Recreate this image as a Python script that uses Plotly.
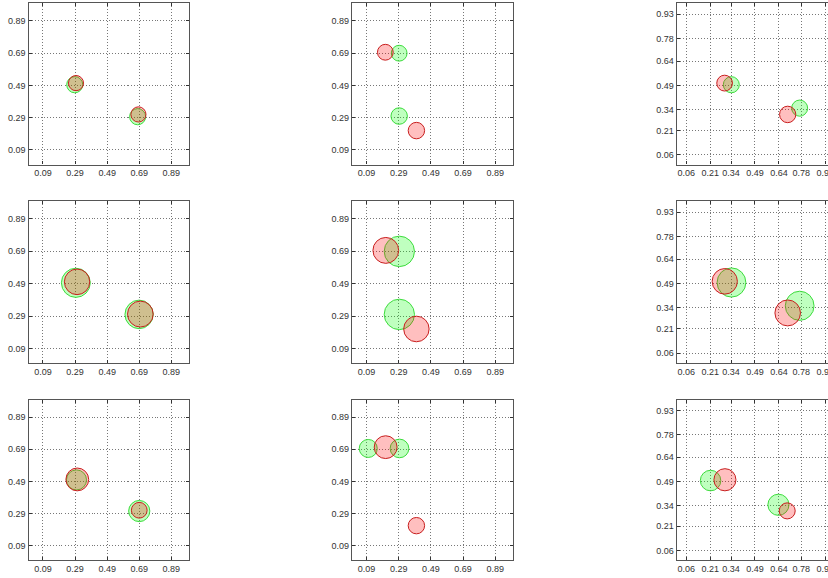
import plotly.graph_objects as go

# ---- data: per panel (row-major), centres and radii in data units ----
green_x = [[0.288, 0.680], [0.293, 0.293], [0.342, 0.770],
           [0.295, 0.689], [0.294, 0.294], [0.343, 0.770],
           [0.299, 0.690], [0.101, 0.295], [0.212, 0.637]]
green_y = [[0.494, 0.296], [0.689, 0.300], [0.494, 0.349],
           [0.495, 0.300], [0.689, 0.300], [0.497, 0.353],
           [0.499, 0.305], [0.695, 0.695], [0.495, 0.344]]
green_r = [[0.050, 0.050], [0.049, 0.051], [0.050, 0.050],
           [0.090, 0.088], [0.094, 0.094], [0.090, 0.090],
           [0.0625, 0.066], [0.056, 0.058], [0.064, 0.066]]

red_x = [[0.296, 0.685], [0.207, 0.400], [0.300, 0.695],
         [0.3025, 0.697], [0.210, 0.400], [0.301, 0.695],
         [0.304, 0.690], [0.209, 0.400], [0.302, 0.692]]
red_y = [[0.504, 0.310], [0.695, 0.210], [0.504, 0.310],
         [0.501, 0.302], [0.695, 0.210], [0.504, 0.309],
         [0.502, 0.310], [0.703, 0.214], [0.500, 0.306]]
red_r = [[0.047, 0.047], [0.049, 0.051], [0.049, 0.051],
         [0.079, 0.080], [0.080, 0.079], [0.079, 0.080],
         [0.071, 0.049], [0.071, 0.051], [0.069, 0.050]]

ticks_a = [0.09, 0.29, 0.49, 0.69, 0.89]
ticks_b = [0.06, 0.21, 0.34, 0.49, 0.64, 0.78, 0.93]
col_ticks = [ticks_a, ticks_a, ticks_b]

# ---- layout geometry (pixels) ----
W, H = 845, 578
col_px = [(28.5, 189.0), (352.0, 513.0), (676.7, 836.4)]
row_px = [(3.0, 164.5), (201.0, 363.0), (399.5, 560.0)]

fig = go.Figure()
layout = dict(width=W, height=H, margin=dict(l=0, r=0, t=0, b=0),
              paper_bgcolor="white", plot_bgcolor="white",
              showlegend=False,
              font=dict(family="Liberation Sans, Arial, sans-serif", size=9, color="#333"))
shapes = []

axis_common = dict(range=[0, 1], showgrid=True, gridcolor="#777", griddash="1px,2px",
                   gridwidth=1, zeroline=False, showline=True, linecolor="#555",
                   linewidth=1.2, mirror="ticks", ticks="inside", ticklen=3,
                   tickcolor="#333", tickfont=dict(size=9, color="#333"),
                   fixedrange=True)

for i in range(9):
    r, c = divmod(i, 3)
    n = "" if i == 0 else str(i + 1)
    x0, x1 = col_px[c]
    y0, y1 = row_px[r]
    layout["xaxis" + n] = dict(axis_common, domain=[x0 / W, x1 / W], anchor="y" + n,
                               tickvals=col_ticks[c],
                               ticktext=["%.2f" % v for v in col_ticks[c]])
    layout["yaxis" + n] = dict(axis_common, domain=[1 - y1 / H, 1 - y0 / H], anchor="x" + n,
                               tickvals=col_ticks[c],
                               ticktext=["%.2f" % v for v in col_ticks[c]])
    fig.add_trace(go.Scatter(x=[], y=[], xaxis="x" + n, yaxis="y" + n, hoverinfo="skip"))
    xr, yr = "x" + n, "y" + n
    for cx, cy, rad in zip(green_x[i], green_y[i], green_r[i]):
        shapes.append(dict(type="circle", xref=xr, yref=yr,
                           x0=cx - rad, x1=cx + rad, y0=cy - rad, y1=cy + rad,
                           fillcolor="rgba(0,255,0,0.25)",
                           line=dict(color="rgb(60,220,60)", width=1)))
    for cx, cy, rad in zip(red_x[i], red_y[i], red_r[i]):
        shapes.append(dict(type="circle", xref=xr, yref=yr,
                           x0=cx - rad, x1=cx + rad, y0=cy - rad, y1=cy + rad,
                           fillcolor="rgba(255,0,0,0.25)",
                           line=dict(color="rgb(200,30,30)", width=1)))

layout["shapes"] = shapes
fig.update_layout(**layout)

fig.write_html("out.html",
               post_script="document.body.style.margin='0';document.body.style.overflow='hidden';",
               config={"displayModeBar": False})
